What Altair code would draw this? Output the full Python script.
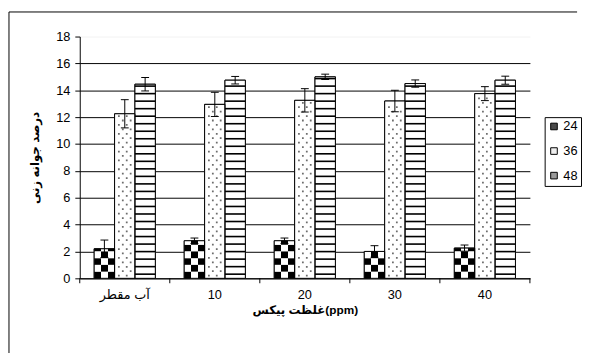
import math
import altair as alt
import pandas as pd

# ---- data ----
categories = ["آب مقطر", "10", "20", "30", "40"]
series = ["24", "36", "48"]
mean_24 = [2.2, 2.8, 2.8, 2.0, 2.25]
err_24 = [0.65, 0.2, 0.2, 0.43, 0.23]
mean_36 = [12.25, 12.95, 13.25, 13.2, 13.75]
err_36 = [1.05, 0.9, 0.87, 0.8, 0.52]
mean_48 = [14.45, 14.75, 15.0, 14.5, 14.75]
err_48 = [0.5, 0.28, 0.2, 0.27, 0.3]
y_ticks = [0, 2, 4, 6, 8, 10, 12, 14, 16, 18]
y_title = "درصد جوانه زنی"
x_title = "غلظت پیکس(ppm)"

W, H = 458, 246
FONT = "Liberation Sans, DejaVu Sans"

rows = []
for s, means, errs in [("24", mean_24, err_24), ("36", mean_36, err_36), ("48", mean_48, err_48)]:
    for c, m, e in zip(categories, means, errs):
        rows.append({"cat": c, "series": s, "value": m, "lo": m - e, "hi": m + e})
df = pd.DataFrame(rows)

# pattern helpers derived from the bar values
checker = []
for c, m in zip(categories, mean_24):
    n = math.ceil(m / 0.5)
    for r in range(n):
        checker.append({"cat": c, "series": "24", "y0": r * 0.5, "y1": min((r + 1) * 0.5, m), "par": r % 2})
checker = pd.DataFrame(checker)

stripes = []
for c, m in zip(categories, mean_48):
    r = 0
    while 0.25 + r * 0.56 + 0.12 < m - 0.05:
        y0 = 0.25 + r * 0.56
        stripes.append({"cat": c, "series": "48", "y0": y0, "y1": y0 + 0.12})
        r += 1
stripes = pd.DataFrame(stripes)

dots = []
for c, m in zip(categories, mean_36):
    r = 0
    while 0.2 + r * 0.33 < m - 0.15:
        dots.append({"cat": c, "series": "36", "y": 0.2 + r * 0.33, "par": r % 2})
        r += 1
dots = pd.DataFrame(dots)

cat_df = pd.DataFrame({"cat": categories})

xscale = alt.Scale(domain=categories, paddingInner=0, paddingOuter=0)
xoscale = alt.Scale(domain=series, paddingInner=0, paddingOuter=0.71)
yscale = alt.Scale(domain=[0, 18], nice=False)

xaxis = alt.Axis(ticks=False, labelFont=FONT, labelFontSize=13, labelColor="black",
                 labelPadding=11, labelAngle=0, domainColor="black",
                 titleFont=FONT, titleFontSize=12, titleFontWeight="bold",
                 titleColor="black", titlePadding=3)
yaxis = alt.Axis(values=y_ticks, grid=True,
                 gridColor={"condition": {"test": "datum.value === 18", "value": "#f2f2f2"}, "value": "black"},
                 tickSize=5, tickColor="black", domainColor="black",
                 labelFont=FONT, labelFontSize=13, labelColor="black", labelPadding=5,
                 titleFont=FONT, titleFontSize=12, titleFontWeight="bold", titleColor="black",
                 titlePadding=15)


def X(bp=None):
    if bp is None:
        return alt.X("cat:N", scale=xscale, axis=xaxis, title=x_title, sort=categories)
    return alt.X("cat:N", scale=xscale, axis=xaxis, title=x_title, sort=categories, bandPosition=bp)


def XO():
    return alt.XOffset("series:N", scale=xoscale, sort=series)


def Y(field):
    return alt.Y(field, scale=yscale, axis=yaxis, title=y_title)


base = alt.Chart(df).mark_bar(stroke="black", strokeWidth=1).encode(
    x=X(), xOffset=XO(), y=Y("value:Q"),
    fill=alt.Fill("series:N", scale=alt.Scale(domain=series, range=["#4a4a4a", "#eeeeee", "#9a9a9a"]),
                  legend=alt.Legend(title=None, orient="none", legendX=473, legendY=82,
                                    strokeColor="black", fillColor="white", padding=3,
                                    symbolType="square", symbolSize=45, symbolStrokeColor="black",
                                    symbolStrokeWidth=1, labelFont=FONT, labelFontSize=13,
                                    labelColor="black", rowPadding=11, labelOffset=3))
)
cover = alt.Chart(df).mark_bar(fill="white", strokeWidth=0).encode(x=X(), xOffset=XO(), y=Y("value:Q"))


def grad(first, second):
    return {"gradient": "linear", "x1": 0, "y1": 0, "x2": 1, "y2": 0,
            "stops": [{"offset": 0, "color": first}, {"offset": 0.333, "color": first},
                      {"offset": 0.334, "color": second}, {"offset": 0.666, "color": second},
                      {"offset": 0.667, "color": first}, {"offset": 1, "color": first}]}


check_a = alt.Chart(checker).transform_filter("datum.par === 0").mark_bar(
    fill=grad("black", "white"), strokeWidth=0).encode(
    x=X(), xOffset=XO(), y=Y("y0:Q"), y2="y1:Q")
check_b = alt.Chart(checker).transform_filter("datum.par === 1").mark_bar(
    fill=grad("white", "black"), strokeWidth=0).encode(
    x=X(), xOffset=XO(), y=Y("y0:Q"), y2="y1:Q")

stripe_layer = alt.Chart(stripes).mark_bar(fill="black", strokeWidth=0).encode(
    x=X(), xOffset=XO(), y=Y("y0:Q"), y2="y1:Q")

shape_even = "M -0.69 -0.09 h 0.18 v 0.18 h -0.18 Z M 0.11 -0.09 h 0.18 v 0.18 h -0.18 Z"
shape_odd = "M -0.29 -0.09 h 0.18 v 0.18 h -0.18 Z M 0.51 -0.09 h 0.18 v 0.18 h -0.18 Z"
dots_a = alt.Chart(dots).transform_filter("datum.par === 0").mark_point(
    shape=shape_even, size=400, filled=True, fill="#6e6e6e", strokeWidth=0, opacity=1).encode(
    x=X(), xOffset=XO(), y=Y("y:Q"))
dots_b = alt.Chart(dots).transform_filter("datum.par === 1").mark_point(
    shape=shape_odd, size=400, filled=True, fill="#6e6e6e", strokeWidth=0, opacity=1).encode(
    x=X(), xOffset=XO(), y=Y("y:Q"))

outline = alt.Chart(df).mark_bar(fill="transparent", stroke="black", strokeWidth=1).encode(
    x=X(), xOffset=XO(), y=Y("value:Q"))

err_rule = alt.Chart(df).mark_rule(color="black", strokeWidth=1).encode(
    x=X(), xOffset=XO(), y=Y("lo:Q"), y2="hi:Q")
cap_hi = alt.Chart(df).mark_tick(color="black", thickness=1, size=8, opacity=1).encode(
    x=X(), xOffset=XO(), y=Y("hi:Q"))
cap_lo = alt.Chart(df).mark_tick(color="black", thickness=1, size=8, opacity=1).encode(
    x=X(), xOffset=XO(), y=Y("lo:Q"))

xticks = alt.Chart(cat_df).mark_rule(color="black").encode(
    x=X(0), y=alt.value(H), y2=alt.value(H + 5))
xtick_end = alt.Chart(cat_df).transform_filter(alt.datum.cat == categories[-1]).mark_rule(color="black").encode(
    x=X(1), y=alt.value(H), y2=alt.value(H + 5))

frame_left = alt.Chart(cat_df).transform_filter(alt.datum.cat == categories[0]).mark_rule(color="black").encode(
    x=alt.value(-72), y=alt.value(-25), y2=alt.value(322))
frame_top = alt.Chart(cat_df).transform_filter(alt.datum.cat == categories[0]).mark_rule(color="black").encode(
    x=alt.value(-72), x2=alt.value(506), y=alt.value(-25))

chart = alt.layer(
    base, cover, check_a, check_b, stripe_layer, dots_a, dots_b, outline,
    err_rule, cap_hi, cap_lo, xticks, xtick_end, frame_left, frame_top
).properties(width=W, height=H, padding=0, background="white").configure_view(stroke=None)

chart.save("out.html", embed_options={"renderer": "svg", "actions": False})
